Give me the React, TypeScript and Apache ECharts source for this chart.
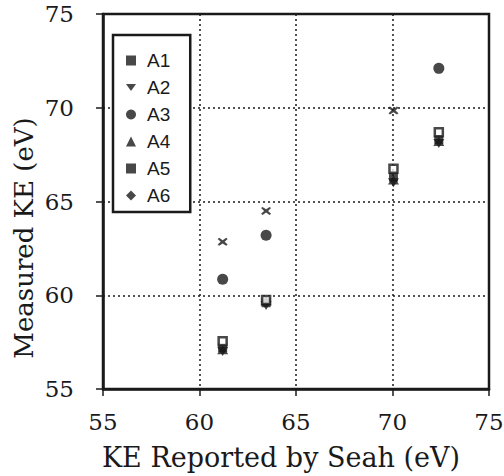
import React, { useEffect, useRef } from "react";
import * as echarts from "echarts";

const seahKE = [61.2, 63.45, 70.05, 72.4];
const seriesNames = ["A1", "A2", "A3", "A4", "A5", "A6"];
const a1 = [57.2, 59.6, 66.3, 68.3];
const a2 = [57.0, 59.45, 66.0, 68.1];
const a3: (number | null)[] = [60.85, 63.2, null, 72.1];
const a4 = [57.1, 59.7, 66.15, 68.2];
const a5 = [57.55, 59.75, 66.75, 68.7];
const a6: (number | null)[] = [62.85, 64.5, 69.85, null];
const tickValues = [55, 60, 65, 70, 75];
const xTitle = "KE Reported by Seah (eV)";
const yTitle = "Measured KE (eV)";

const XMARK =
  "path://M0,1.5 L1.5,0 L5,3 L8.5,0 L10,1.5 L7,5 L10,8.5 L8.5,10 L5,7 L1.5,10 L0,8.5 L3,5 Z";

export default function App() {
  const ref = useRef<HTMLDivElement>(null);
  useEffect(() => {
    if (!ref.current) return;
    const chart = echarts.init(ref.current, undefined, { renderer: "svg" });
    const pts = (vals: (number | null)[]) =>
      seahKE.map((x, i) => (vals[i] == null ? null : [x, vals[i]])).filter((p) => p !== null);
    const black = "#1a1a1a";
    const mk = (name: string, vals: (number | null)[], symbol: string, size: any, extra: any = {}) => ({
      name,
      type: "scatter",
      data: pts(vals),
      symbol,
      symbolSize: size,
      itemStyle: { color: black, ...extra },
    });
    const serif = "'DejaVu Serif', 'Liberation Serif', serif";
    const axisCommon = {
      type: "value",
      min: tickValues[0],
      max: tickValues[tickValues.length - 1],
      interval: 5,
      axisLine: { show: true, lineStyle: { color: black, width: 2.5 } },
      axisTick: { show: true, length: 7, lineStyle: { color: black, width: 1.5 } },
      splitLine: { show: true, lineStyle: { color: black, width: 1.5, type: [2, 3] } },
      axisLabel: { color: black, fontFamily: serif, fontSize: 23 },
    };
    chart.setOption({
      animation: false,
      backgroundColor: "#ffffff",
      grid: {
        left: 103,
        right: 15,
        top: 14,
        bottom: 87,
        show: true,
        borderColor: black,
        borderWidth: 2.5,
        containLabel: false,
        outerBoundsMode: "none",
      },
      xAxis: {
        ...axisCommon,
        axisLabel: { ...axisCommon.axisLabel, margin: 21 },
      },
      yAxis: {
        ...axisCommon,
        axisLabel: { ...axisCommon.axisLabel, margin: 29 },
      },
      graphic: [
        {
          type: "text",
          x: 281,
          y: 457,
          style: {
            text: xTitle,
            font: `27px ${serif}`,
            fill: black,
            align: "center",
            verticalAlign: "middle",
          },
        },
        {
          type: "text",
          x: 24,
          y: 238,
          rotation: Math.PI / 2,
          style: {
            text: yTitle,
            font: `26px ${serif}`,
            fill: black,
            align: "center",
            verticalAlign: "middle",
          },
        },
      ],
      legend: {
        orient: "vertical",
        left: 113,
        top: 35,
        padding: [16, 20, 7, 13],
        itemWidth: 10,
        itemHeight: 10,
        itemGap: 8,
        borderColor: black,
        borderWidth: 2.5,
        backgroundColor: "#ffffff",
        textStyle: {
          color: black,
          fontFamily: "'Liberation Sans', Arial, sans-serif",
          fontSize: 19,
          lineHeight: 19,
          padding: [0, 0, 0, 6],
        },
        data: [
          { name: "A1", icon: "rect" },
          { name: "A2", icon: "path://M0,0 L10,0 L5,7 Z" },
          { name: "A3", icon: "circle" },
          { name: "A4", icon: "triangle" },
          { name: "A5", icon: "rect", itemStyle: { color: black, borderWidth: 0 } },
          { name: "A6", icon: "diamond" },
        ],
      },
      series: [
        mk(seriesNames[0], a1, "rect", 9),
        mk(seriesNames[1], a2, "path://M0,0 L10,0 L5,8 Z", [11, 9]),
        mk(seriesNames[2], a3, "circle", 11),
        mk(seriesNames[3], a4, "triangle", [11, 9]),
        mk(seriesNames[4], a5, "rect", 8, { color: "#ffffff", borderColor: black, borderWidth: 2.5 }),
        mk(seriesNames[5], a6, XMARK, [10, 8]),
      ],
    });
    return () => chart.dispose();
  }, []);
  return (
    <div
      ref={ref}
      style={{ position: "fixed", left: 0, top: 0, width: 504, height: 476, overflow: "hidden" }}
    />
  );
}
